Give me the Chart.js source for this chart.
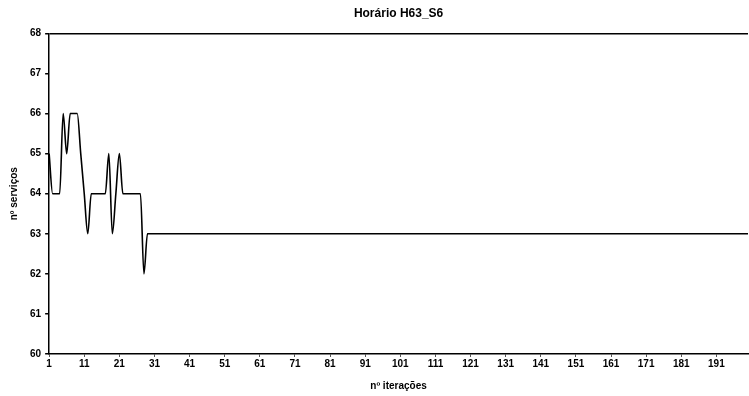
<!DOCTYPE html>
<html>
<head>
<meta charset="utf-8">
<script src="https://cdn.jsdelivr.net/npm/chart.js@4/dist/chart.umd.min.js"></script>
<style>
  html, body { margin:0; padding:0; background:#fff; }
  #wrap { width:749px; height:396px; position:relative; }
</style>
</head>
<body>
<div id="wrap"><canvas id="chart"></canvas></div>
<script>
// Horário H63_S6 - nº serviços por iteração
const chartTitle = 'Horário H63_S6';
const xTitle = 'nº iterações';
const yTitle = 'nº serviços';
const yTicks = [60, 61, 62, 63, 64, 65, 66, 67, 68];

const servicos = [
    65, 64, 64, 64, 66, 65, 66, 66, 66, 65,
    64, 63, 64, 64, 64, 64, 64, 65, 63, 64,
    65, 64, 64, 64, 64, 64, 64, 62, 63, 63,
    63, 63, 63, 63, 63, 63, 63, 63, 63, 63,
    63, 63, 63, 63, 63, 63, 63, 63, 63, 63,
    63, 63, 63, 63, 63, 63, 63, 63, 63, 63,
    63, 63, 63, 63, 63, 63, 63, 63, 63, 63,
    63, 63, 63, 63, 63, 63, 63, 63, 63, 63,
    63, 63, 63, 63, 63, 63, 63, 63, 63, 63,
    63, 63, 63, 63, 63, 63, 63, 63, 63, 63,
    63, 63, 63, 63, 63, 63, 63, 63, 63, 63,
    63, 63, 63, 63, 63, 63, 63, 63, 63, 63,
    63, 63, 63, 63, 63, 63, 63, 63, 63, 63,
    63, 63, 63, 63, 63, 63, 63, 63, 63, 63,
    63, 63, 63, 63, 63, 63, 63, 63, 63, 63,
    63, 63, 63, 63, 63, 63, 63, 63, 63, 63,
    63, 63, 63, 63, 63, 63, 63, 63, 63, 63,
    63, 63, 63, 63, 63, 63, 63, 63, 63, 63,
    63, 63, 63, 63, 63, 63, 63, 63, 63, 63,
    63, 63, 63, 63, 63, 63, 63, 63, 63, 63
];

// iteration numbers 1..N (category labels)
const iteracoes = servicos.map((v, i) => String(i + 1));

const fontFamily = "'Liberation Sans Narrow', 'Liberation Sans', Arial, sans-serif";

new Chart(document.getElementById('chart'), {
    type: 'line',
    data: {
        labels: iteracoes,
        datasets: [{
            data: servicos,
            borderColor: '#000',
            borderWidth: 1.6,
            pointRadius: 0,
            cubicInterpolationMode: 'monotone',
            fill: false
        }]
    },
    options: {
        responsive: true,
        maintainAspectRatio: false,
        animation: false,
        layout: { padding: { left: 8, right: 0, top: 0, bottom: 4 } },
        plugins: {
            legend: { display: false },
            tooltip: { enabled: false },
            title: {
                display: true,
                text: chartTitle,
                fullSize: false,
                color: '#000',
                font: { family: fontFamily, size: 12, weight: 'bold' },
                padding: { top: 6, bottom: 13 }
            }
        },
        scales: {
            x: {
                type: 'category',
                offset: false,
                border: { display: true, color: '#000', width: 1.5 },
                grid: {
                    drawOnChartArea: false,
                    drawTicks: true,
                    tickLength: 3,
                    tickColor: ctx => (ctx.index % 10 === 0 ? '#555' : 'rgba(0,0,0,0)')
                },
                ticks: {
                    autoSkip: false,
                    maxRotation: 0,
                    color: '#000',
                    padding: 1,
                    font: { family: fontFamily, size: 10, weight: 'bold' },
                    callback: (val, i) => (i % 10 === 0 ? iteracoes[i] : '')
                },
                title: {
                    display: true,
                    text: xTitle,
                    color: '#000',
                    font: { family: fontFamily, size: 10, weight: 'bold' },
                    padding: { top: 9, bottom: 0 }
                }
            },
            y: {
                min: yTicks[0],
                max: yTicks[yTicks.length - 1],
                border: { display: true, color: '#000', width: 1.5 },
                grid: {
                    drawTicks: true,
                    tickLength: 4,
                    tickColor: '#000',
                    color: ctx => (ctx.tick && ctx.tick.value === yTicks[yTicks.length - 1] ? '#000' : 'rgba(0,0,0,0)'),
                    lineWidth: 1.5
                },
                ticks: {
                    stepSize: 1,
                    color: '#000',
                    padding: 4,
                    font: { family: fontFamily, size: 10, weight: 'bold' }
                },
                title: {
                    display: true,
                    text: yTitle,
                    color: '#000',
                    font: { family: fontFamily, size: 10, weight: 'bold' },
                    padding: { top: 0, bottom: 6 }
                }
            }
        }
    }
});
</script>
</body>
</html>
